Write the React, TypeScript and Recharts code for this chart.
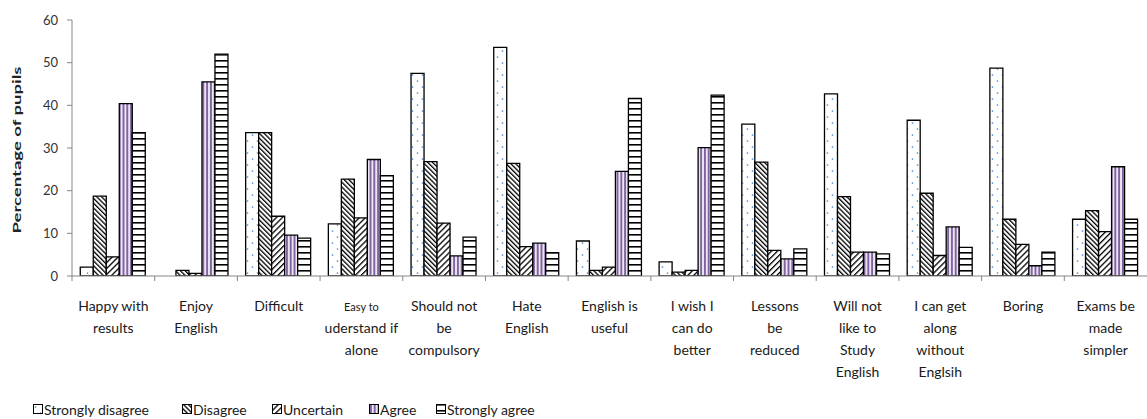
import React from 'react';
import { BarChart, Bar, XAxis, YAxis, Legend } from 'recharts';

const categories = [
  'Happy with\nresults',
  'Enjoy\nEnglish',
  'Difficult',
  'Easy to\nuderstand if\nalone',
  'Should not\nbe\ncompulsory',
  'Hate\nEnglish',
  'English is\nuseful',
  'I wish I\ncan do\nbetter',
  'Lessons\nbe\nreduced',
  'Will not\nlike to\nStudy\nEnglish',
  'I can get\nalong\nwithout\nEnglsih',
  'Boring',
  'Exams be\nmade\nsimpler',
];

const stronglyDisagree = [2.1, 0, 33.6, 12.2, 47.5, 53.6, 8.2, 3.3, 35.6, 42.7, 36.5, 48.7, 13.3];
const disagree = [18.7, 1.3, 33.6, 22.7, 26.8, 26.4, 1.3, 0.9, 26.7, 18.6, 19.4, 13.3, 15.3];
const uncertain = [4.5, 0.6, 14.0, 13.6, 12.4, 6.9, 2.1, 1.3, 6.0, 5.6, 4.8, 7.4, 10.4];
const agree = [40.4, 45.5, 9.6, 27.3, 4.7, 7.7, 24.5, 30.1, 4.0, 5.6, 11.5, 2.4, 25.6];
const stronglyAgree = [33.6, 52.0, 8.9, 23.5, 9.1, 5.5, 41.6, 42.4, 6.35, 5.2, 6.7, 5.6, 13.3];

const yTicks = [0, 10, 20, 30, 40, 50, 60];

const seriesNames = ['Strongly disagree', 'Disagree', 'Uncertain', 'Agree', 'Strongly agree'];
const seriesKeys = ['sd', 'd', 'u', 'a', 'sa'];
const patternIds = ['pSD', 'pD', 'pU', 'pA', 'pSA'];

const data = categories.map((c, i) => ({
  category: c,
  sd: stronglyDisagree[i],
  d: disagree[i],
  u: uncertain[i],
  a: agree[i],
  sa: stronglyAgree[i],
}));

const FONT = 'Lato, "Open Sans", sans-serif';
const AXIS = '#868686';
const LEGEND_ITEM_WIDTHS = [149, 90, 97, 67, 120];

const CategoryTick = (props: any) => {
  const { x, y, payload } = props;
  const half = payload && typeof payload.offset === 'number' && payload.offset > 0 ? payload.offset : 41.35;
  const lines = String(payload.value).split('\n');
  return (
    <g>
      <line x1={x - half} x2={x - half} y1={y} y2={y + 5} stroke={AXIS} strokeWidth={1} />
      {lines.map((ln, i) => (
        <text
          key={i}
          x={x}
          y={y + 35 + i * 22}
          textAnchor="middle"
          fontFamily={FONT}
          fontSize={ln === 'Easy to' ? 11 : 14}
          fill="#1a1a1a"
        >
          {ln}
        </text>
      ))}
    </g>
  );
};

const YLabel = () => (
  <text
    x={21}
    y={150}
    transform="rotate(-90, 21, 150)"
    textAnchor="middle"
    fontFamily={FONT}
    fontWeight="bold"
    fontSize={12}
    fill="#222"
    textLength={167}
    lengthAdjust="spacingAndGlyphs"
  >
    Percentage of pupils
  </text>
);

const renderLegend = () => (
  <div
    style={{
      display: 'flex',
      alignItems: 'center',
      height: 18,
      fontFamily: FONT,
      fontSize: 14,
      color: '#1a1a1a',
      whiteSpace: 'nowrap',
    }}
  >
    {seriesNames.map((name, i) => (
      <div key={name} style={{ display: 'flex', alignItems: 'center', width: LEGEND_ITEM_WIDTHS[i] }}>
        <svg width={10} height={10} style={{ display: 'block' }}>
          <rect x={0.5} y={0.5} width={9} height={9} fill={`url(#${patternIds[i]})`} stroke="#000" strokeWidth={1} />
        </svg>
        <span style={{ marginLeft: 1 }}>{name}</span>
      </div>
    ))}
  </div>
);

export default function App() {
  return (
    <div style={{ position: 'absolute', left: 0, top: 0, width: 1147, height: 419, background: '#fff' }}>
      <BarChart
        width={1147}
        height={419}
        data={data}
        margin={{ top: 20, right: 0, left: 0, bottom: 0 }}
        barCategoryGap="10%"
        barGap={0}
      >
        <defs>
          <pattern id="pSD" patternUnits="userSpaceOnUse" width={10} height={12}>
            <rect width={10} height={12} fill="#fff" />
            <circle cx={2.5} cy={3} r={0.85} fill="#4f86d9" />
            <circle cx={7.5} cy={9} r={0.85} fill="#4f86d9" />
          </pattern>
          <pattern id="pD" patternUnits="userSpaceOnUse" width={3.4} height={3.4} patternTransform="rotate(-45)">
            <rect width={3.4} height={3.4} fill="#fff" />
            <rect width={1.3} height={3.4} fill="#000" />
          </pattern>
          <pattern id="pU" patternUnits="userSpaceOnUse" width={4.2} height={4.2} patternTransform="rotate(45)">
            <rect width={4.2} height={4.2} fill="#fff" />
            <rect width={1.3} height={4.2} fill="#000" />
          </pattern>
          <pattern id="pA" patternUnits="userSpaceOnUse" width={3.8} height={4}>
            <rect width={3.8} height={4} fill="#fff" />
            <rect x={0.8} width={2.2} height={4} fill="#8064A2" />
          </pattern>
          <pattern id="pSA" patternUnits="userSpaceOnUse" width={6} height={6}>
            <rect width={6} height={6} fill="#fff" />
            <rect y={0} width={6} height={1.6} fill="#000" />
          </pattern>
        </defs>
        <YAxis
          width={72}
          domain={[0, 60]}
          ticks={yTicks}
          interval={0}
          allowDataOverflow
          tickSize={5}
          tickMargin={9}
          axisLine={{ stroke: AXIS }}
          tickLine={{ stroke: AXIS }}
          tick={{ fontSize: 13, fill: '#333', fontFamily: FONT }}
          label={<YLabel />}
        />
        <XAxis
          dataKey="category"
          interval={0}
          height={125}
          tickSize={0}
          tickMargin={0}
          axisLine={{ stroke: AXIS }}
          tickLine={false}
          tick={<CategoryTick />}
        />
        <Legend
          verticalAlign="bottom"
          content={renderLegend}
          wrapperStyle={{ left: 33, bottom: 1, width: 700, height: 18 }}
        />
        {seriesKeys.map((k, i) => (
          <Bar
            key={k}
            dataKey={k}
            name={seriesNames[i]}
            fill={`url(#${patternIds[i]})`}
            stroke="#000"
            strokeWidth={1.3}
            isAnimationActive={false}
          />
        ))}
      </BarChart>
    </div>
  );
}
